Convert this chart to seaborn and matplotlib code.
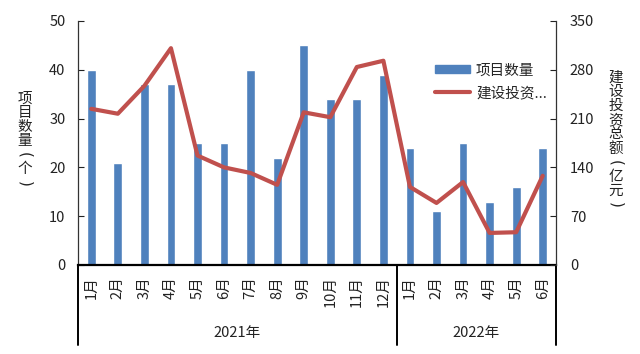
import matplotlib
matplotlib.use("Agg")
import matplotlib.pyplot as plt
import seaborn as sns
import pandas as pd
from matplotlib.patches import Patch
from matplotlib.lines import Line2D

months = ["1月", "2月", "3月", "4月", "5月", "6月", "7月", "8月", "9月", "10月", "11月", "12月",
          "1月", "2月", "3月", "4月", "5月", "6月"]
years = ["2021年", "2022年"]
year_counts = [12, 6]
project_count = [40, 21, 37, 37, 25, 25, 40, 22, 45, 34, 34, 39, 24, 11, 25, 13, 16, 24]
investment = [224, 217, 257, 311, 157, 140, 132, 115, 219, 212, 284, 293, 112, 89, 119, 46, 47, 128]
left_label = "项目数量（个）"
right_label = "建设投资总额（亿元）"
legend_labels = ["项目数量", "建设投资..."]

sns.set_theme(style="white")
plt.rcParams['font.family'] = ['Noto Sans CJK SC', 'DejaVu Sans']
plt.rcParams['font.size'] = 10.5

df = pd.DataFrame({"idx": list(range(len(months))), "count": project_count, "inv": investment})

fig = plt.figure(figsize=(6.4, 3.54), dpi=100)
ax = fig.add_axes([78/640, 1-265/354, (556-78)/640, (265-21)/354])

blue = "#4F81BD"
red = "#C0504D"
sns.barplot(data=df, x="idx", y="count", ax=ax, color=blue, width=0.33, saturation=1)
ax.set_xlim(-0.5, len(months)-0.5)
ax.set_ylim(0, 50)
ax.set_yticks(range(0, 51, 10))
ax.set_xticks(range(len(months)))
ax.set_xticklabels(months, rotation=90, va="top", ha="center")
ax.set_xlabel("")
ax.set_ylabel("")
ax.tick_params(axis="x", length=0, pad=8, colors="#222222", labelsize=10.5)
ax.tick_params(axis="y", direction="in", length=4, width=0.8, pad=9, colors="#222222", labelsize=10.5)
for s in ["top", "right"]:
    ax.spines[s].set_visible(False)
ax.spines["left"].set_color("#333333")
ax.spines["left"].set_linewidth(0.9)
ax.spines["bottom"].set_color("#000000")
ax.spines["bottom"].set_linewidth(1.6)

ax2 = ax.twinx()
sns.lineplot(data=df, x="idx", y="inv", ax=ax2, color=red, linewidth=3.0)
ax2.set_ylim(0, 350)
ax2.set_yticks(range(0, 351, 70))
ax2.set_ylabel("")
ax2.set_xlim(-0.5, len(months)-0.5)
ax2.tick_params(axis="y", direction="in", length=4, width=0.8, pad=10, colors="#222222", labelsize=10.5)
for s in ["top", "left", "bottom"]:
    ax2.spines[s].set_visible(False)
ax2.spines["right"].set_color("#333333")
ax2.spines["right"].set_linewidth(0.9)

# multi-level category separators
tr = ax.get_xaxis_transform()
low = -(345-265)/244
start = -0.5
bounds = [start]
for c in year_counts:
    start += c
    bounds.append(start)
for b in bounds:
    ax.plot([b, b], [0, low], transform=tr, color="black", linewidth=1.4, clip_on=False)
for i, y in enumerate(years):
    mid = (bounds[i] + bounds[i+1]) / 2
    ax.text(mid, -(333-265)/244, y, transform=tr, ha="center", va="center", fontsize=10.5, color="#222222")

handles = [Patch(facecolor=blue, edgecolor=blue), Line2D([0], [0], color=red, linewidth=3.0)]
ax2.legend(handles, legend_labels, loc="upper left", bbox_to_anchor=(0.72, 0.88), frameon=False,
           handlelength=2.4, handleheight=0.5, handletextpad=0.4, labelspacing=0.6, fontsize=10.5)


def vertical_label(text, xpx, ycenter_px, step=14.2):
    n = len(text)
    y0 = ycenter_px - step * (n - 1) / 2
    for i, ch in enumerate(text):
        rot = 0
        fs = 10.5
        if ch in "（）":
            ch = "(" if ch == "（" else ")"
            rot = -90
            fs = 11
        fig.text(xpx/640, 1-(y0 + i*step)/354, ch, ha="center", va="center", rotation=rot,
                 fontsize=fs, color="#222222", family="DejaVu Sans" if rot else None)


vertical_label(left_label, 25, 141)
vertical_label(right_label, 616, 141.5)

fig.savefig("out.png", dpi=100, facecolor="white")
